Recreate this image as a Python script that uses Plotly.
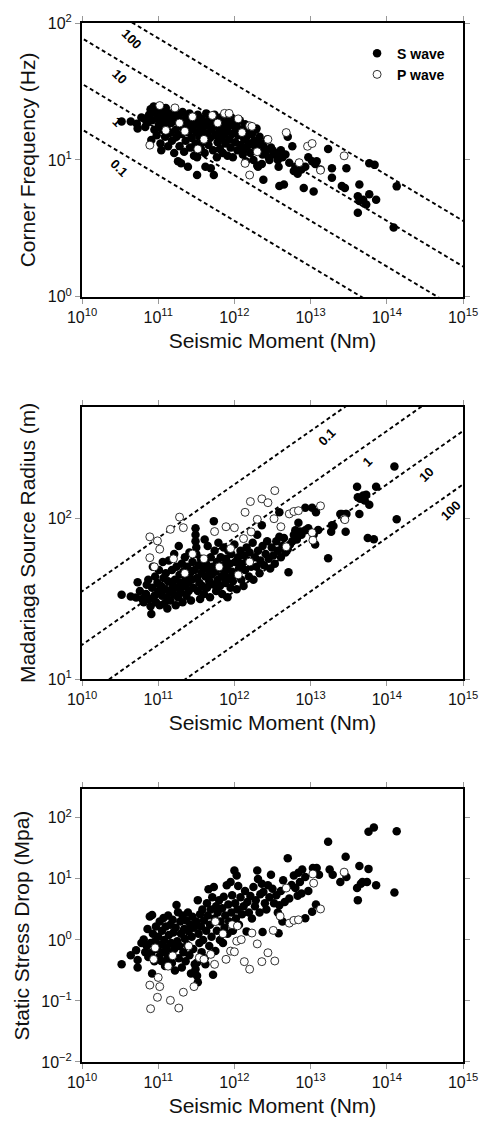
import numpy as np
import plotly.graph_objects as go

# (log10 seismic moment [Nm], log10 corner frequency [Hz])
fc_s_wave = [
    (10.52, 1.28), (10.64, 1.28), (10.72, 1.265), (10.73, 1.23), (10.78, 1.31), (10.82, 1.30),
    (10.83, 1.24), (10.85, 1.27), (10.88, 1.33), (10.90, 1.37), (10.91, 1.145), (10.92, 1.29),
    (10.94, 1.39), (10.95, 1.22), (10.97, 1.34), (10.98, 1.18), (11.00, 1.30), (11.01, 1.26),
    (11.02, 1.36), (11.03, 1.12), (11.04, 1.07), (11.05, 1.22), (11.06, 1.33), (11.08, 1.28),
    (11.09, 1.17), (11.10, 1.38), (11.11, 1.24), (11.12, 1.30), (11.13, 1.10), (11.15, 1.34),
    (11.16, 1.20), (11.17, 1.27), (11.18, 1.14), (11.20, 1.31), (11.21, 1.05), (11.22, 1.36),
    (11.23, 1.22), (11.24, 1.17), (11.25, 1.28), (11.26, 0.99), (11.27, 1.33), (11.28, 1.10),
    (11.29, 1.25), (11.30, 0.976), (11.31, 1.19), (11.32, 1.35), (11.33, 1.29), (11.34, 1.06),
    (11.35, 1.23), (11.36, 1.14), (11.37, 1.31), (11.38, 1.26), (11.39, 0.95), (11.40, 1.20),
    (11.41, 1.34), (11.42, 1.09), (11.43, 1.28), (11.44, 1.16), (11.45, 1.23), (11.46, 1.31),
    (11.47, 1.03), (11.48, 1.26), (11.49, 1.12), (11.50, 1.20), (11.51, 0.89), (11.51, 1.02),
    (11.52, 1.33), (11.53, 1.29), (11.54, 1.17), (11.55, 1.24), (11.56, 1.08), (11.57, 1.30),
    (11.58, 1.13), (11.59, 1.21), (11.60, 1.27), (11.61, 1.05), (11.62, 0.95), (11.63, 1.34),
    (11.64, 1.19), (11.65, 1.25), (11.66, 1.11), (11.67, 1.30), (11.68, 1.16), (11.69, 0.94),
    (11.70, 1.22), (11.71, 1.28), (11.72, 1.07), (11.73, 0.89), (11.74, 1.33), (11.75, 1.18),
    (11.76, 1.25), (11.77, 1.02), (11.78, 1.13), (11.79, 1.29), (11.80, 1.21), (11.81, 1.08),
    (11.82, 1.31), (11.83, 1.16), (11.84, 1.24), (11.85, 1.05), (11.86, 1.27), (11.87, 1.19),
    (11.88, 1.12), (11.89, 1.33), (11.90, 1.22), (11.91, 1.03), (11.92, 1.28), (11.93, 1.15),
    (11.94, 1.25), (11.95, 1.09), (11.96, 1.31), (11.97, 1.19), (11.98, 1.02), (12.00, 1.26),
    (12.01, 1.13), (12.02, 1.22), (12.03, 1.25), (12.04, 1.07), (12.05, 1.18), (12.07, 1.29),
    (12.08, 1.11), (12.10, 1.22), (12.11, 1.04), (12.12, 1.07), (12.13, 1.15), (12.14, 1.26),
    (12.15, 0.99), (12.16, 1.17), (12.17, 1.10), (12.19, 1.21), (12.20, 1.12), (12.21, 1.05),
    (12.22, 1.24), (12.23, 1.19), (12.25, 1.00), (12.26, 1.14), (12.27, 1.10), (12.28, 1.22),
    (12.29, 1.23), (12.30, 0.96), (12.31, 0.95), (12.32, 1.08), (12.33, 1.17), (12.34, 1.12),
    (12.36, 0.97), (12.37, 1.04), (12.38, 1.12), (12.38, 0.855), (12.40, 1.08), (12.42, 1.07),
    (12.43, 1.15), (12.45, 1.02), (12.46, 1.00), (12.48, 1.09), (12.50, 1.07), (12.52, 1.04),
    (12.55, 1.05), (12.57, 1.00), (12.58, 0.95), (12.59, 0.81), (12.61, 1.07), (12.63, 1.02),
    (12.65, 0.82), (12.67, 1.04), (12.70, 1.17), (12.72, 0.98), (12.76, 1.10), (12.78, 0.92),
    (12.80, 0.95), (12.83, 0.90), (12.88, 0.93), (12.91, 0.795), (12.93, 0.95), (12.97, 1.02),
    (13.02, 0.99), (13.04, 0.77), (13.06, 0.97), (13.08, 0.99), (13.13, 0.93), (13.23, 1.08),
    (13.28, 0.94), (13.28, 0.87), (13.41, 0.81), (13.45, 0.795), (13.47, 0.94), (13.62, 0.735),
    (13.62, 0.614), (13.64, 0.82), (13.64, 0.70), (13.69, 0.71), (13.73, 0.675), (13.77, 0.75),
    (13.77, 0.976), (13.84, 0.964), (13.86, 0.71), (14.09, 0.506), (14.13, 0.807),
]
fc_p_wave = [
    (10.89, 1.108), (11.02, 1.397), (11.10, 1.216), (11.22, 1.38), (11.45, 1.315), (11.71, 1.325),
    (11.87, 1.34), (11.93, 1.34), (12.05, 1.30), (12.20, 1.25), (12.23, 1.245), (12.44, 1.15),
    (12.68, 1.20), (12.96, 1.10), (13.02, 1.12), (12.85, 0.98), (13.13, 0.925), (12.14, 0.975),
    (12.20, 0.89), (13.44, 1.03), (11.35, 1.21), (11.60, 1.15), (11.78, 1.27), (12.30, 1.06),
    (11.52, 1.08), (12.10, 1.20), (11.28, 1.27),
]

# (log10 seismic moment [Nm], log10 source radius [m])
radius_s_wave = [
    (10.52, 1.526), (10.64, 1.515), (10.71, 1.509), (10.73, 1.604), (10.76, 1.55), (10.79, 1.50),
    (10.81, 1.48), (10.84, 1.53), (10.85, 1.588), (10.87, 1.62), (10.88, 1.50), (10.90, 1.454),
    (10.91, 1.406), (10.92, 1.57), (10.93, 1.70), (10.95, 1.52), (10.96, 1.64), (10.97, 1.48),
    (10.99, 1.60), (11.00, 1.55), (11.01, 1.68), (11.02, 1.46), (11.04, 1.58), (11.05, 1.52),
    (11.06, 1.73), (11.07, 1.63), (11.08, 1.47), (11.09, 1.56), (11.10, 1.66), (11.11, 1.51),
    (11.12, 1.44), (11.13, 1.61), (11.14, 1.74), (11.15, 1.55), (11.16, 1.49), (11.18, 1.68),
    (11.19, 1.58), (11.20, 1.53), (11.21, 1.78), (11.22, 1.62), (11.23, 1.46), (11.24, 1.70),
    (11.25, 1.57), (11.26, 1.51), (11.27, 1.83), (11.28, 1.65), (11.29, 1.60), (11.30, 1.54),
    (11.31, 1.72), (11.32, 1.48), (11.33, 1.67), (11.34, 1.58), (11.35, 1.76), (11.36, 1.63),
    (11.37, 1.52), (11.38, 1.70), (11.39, 1.60), (11.40, 1.55), (11.41, 1.79), (11.42, 1.66),
    (11.43, 1.49), (11.44, 1.62), (11.45, 1.73), (11.46, 1.57), (11.48, 1.68), (11.49, 1.94),
    (11.49, 1.90), (11.49, 1.86), (11.50, 1.82), (11.50, 1.78), (11.51, 1.63), (11.52, 1.55),
    (11.53, 1.71), (11.54, 1.60), (11.55, 1.50), (11.56, 1.75), (11.57, 1.66), (11.58, 1.58),
    (11.59, 1.69), (11.60, 1.53), (11.61, 1.87), (11.62, 1.64), (11.63, 1.72), (11.64, 1.57),
    (11.65, 1.83), (11.66, 1.68), (11.67, 1.61), (11.68, 1.51), (11.69, 1.76), (11.70, 1.65),
    (11.71, 1.70), (11.72, 1.59), (11.73, 1.985), (11.74, 1.80), (11.75, 1.67), (11.76, 1.55),
    (11.77, 1.73), (11.78, 1.62), (11.79, 1.85), (11.80, 1.69), (11.81, 1.58), (11.82, 1.76),
    (11.83, 1.64), (11.84, 1.53), (11.85, 1.71), (11.86, 1.82), (11.87, 1.66), (11.88, 1.60),
    (11.89, 1.75), (11.90, 1.69), (11.91, 1.51), (11.92, 1.80), (11.93, 1.63), (11.94, 1.72),
    (11.95, 1.57), (11.96, 1.78), (11.97, 1.67), (11.98, 1.61), (12.00, 1.84), (12.01, 1.73),
    (12.02, 1.65), (12.03, 1.56), (12.05, 1.76), (12.06, 1.69), (12.08, 1.80), (12.09, 1.62),
    (12.10, 1.72), (12.12, 1.58), (12.13, 1.77), (12.14, 1.68), (12.16, 1.82), (12.17, 1.74),
    (12.19, 1.64), (12.20, 1.79), (12.22, 1.70), (12.24, 1.85), (12.25, 1.62), (12.27, 1.76),
    (12.29, 1.70), (12.30, 1.90), (12.31, 1.80), (12.33, 1.66), (12.34, 1.74), (12.36, 1.96),
    (12.37, 1.83), (12.39, 1.71), (12.41, 1.78), (12.43, 1.86), (12.45, 1.75), (12.47, 1.69),
    (12.49, 1.82), (12.51, 1.77), (12.53, 1.72), (12.55, 1.86), (12.57, 1.80), (12.59, 2.04),
    (12.59, 1.887), (12.61, 1.76), (12.63, 1.83), (12.65, 1.88), (12.67, 1.79), (12.70, 1.81),
    (12.71, 1.666), (12.73, 1.84), (12.76, 1.86), (12.78, 1.90), (12.80, 1.928), (12.82, 1.87),
    (12.84, 1.975), (12.86, 1.92), (12.88, 1.90), (12.93, 2.068), (12.93, 1.928), (12.97, 1.94),
    (13.02, 2.068), (13.04, 1.90), (13.06, 1.84), (13.07, 2.04), (13.10, 1.93), (13.23, 1.753),
    (13.27, 1.918), (13.28, 1.96), (13.30, 1.955), (13.39, 2.03), (13.41, 2.03), (13.46, 2.03),
    (13.46, 1.918), (13.47, 2.03), (13.61, 2.20), (13.62, 2.134), (13.64, 2.03), (13.65, 2.124),
    (13.69, 2.144), (13.71, 2.113), (13.73, 2.15), (13.75, 1.88), (13.77, 2.087), (13.83, 1.872),
    (13.86, 2.20), (14.10, 2.326), (14.13, 1.996),
]
radius_p_wave = [
    (10.89, 1.887), (10.99, 1.862), (11.02, 1.81), (10.89, 1.757), (10.95, 1.70), (11.16, 1.934),
    (11.28, 2.01), (11.33, 1.944), (11.20, 1.75), (11.45, 1.78), (11.74, 1.92), (11.89, 1.95),
    (12.00, 1.944), (11.95, 1.814), (12.12, 1.876), (12.14, 2.04), (12.21, 2.107), (12.22, 1.918),
    (12.30, 1.996), (12.36, 2.124), (12.44, 2.10), (12.53, 2.175), (12.52, 2.00), (12.61, 1.95),
    (12.68, 1.825), (12.72, 2.03), (12.78, 2.045), (12.84, 2.05), (13.02, 1.913), (13.03, 1.866),
    (13.13, 2.08), (13.44, 2.00), (13.45, 1.994), (12.20, 1.73), (11.60, 1.75), (11.35, 1.66),
    (11.80, 1.70), (12.05, 1.65),
]

# (log10 seismic moment [Nm], log10 static stress drop [MPa])
stress_s_wave = [
    (10.52, -0.40), (10.64, -0.253), (10.71, -0.17), (10.73, -0.33), (10.73, -0.45), (10.78, -0.05),
    (10.81, 0.005), (10.83, -0.20), (10.85, -0.10), (10.86, 0.18), (10.87, -0.28), (10.89, 0.383),
    (10.90, -0.05), (10.91, -0.21), (10.92, 0.41), (10.92, -0.55), (10.93, 0.10), (10.95, -0.35),
    (10.96, -0.02), (10.97, 0.22), (10.98, -0.15), (11.00, 0.05), (11.01, -0.28), (11.02, 0.30),
    (11.03, -0.08), (11.04, -0.345), (11.05, 0.15), (11.06, -0.20), (11.07, 0.36), (11.08, 0.00),
    (11.09, -0.426), (11.10, 0.22), (11.11, -0.12), (11.12, -0.30), (11.13, 0.40), (11.14, 0.08),
    (11.15, -0.22), (11.16, 0.25), (11.17, -0.05), (11.18, -0.38), (11.19, 0.33), (11.20, 0.12),
    (11.21, -0.15), (11.22, -0.50), (11.23, 0.20), (11.24, 0.571), (11.25, -0.02), (11.26, 0.453),
    (11.27, -0.30), (11.28, -0.10), (11.29, 0.30), (11.30, 0.10), (11.31, -0.45), (11.32, 0.40),
    (11.33, -0.20), (11.34, 0.18), (11.35, 0.02), (11.36, -0.35), (11.37, 0.32), (11.38, -0.08),
    (11.39, 0.45), (11.40, 0.14), (11.41, -0.25), (11.42, 0.25), (11.43, -0.55), (11.44, 0.05),
    (11.45, 0.38), (11.46, -0.15), (11.47, 0.20), (11.48, -0.40), (11.49, -0.48), (11.50, 0.30),
    (11.51, -0.588), (11.51, -0.37), (11.52, 0.652), (11.52, -0.695), (11.53, 0.10), (11.54, -0.05),
    (11.55, 0.42), (11.56, 0.22), (11.57, -0.20), (11.58, 0.50), (11.59, 0.00), (11.60, 0.32),
    (11.61, -0.30), (11.62, -0.40), (11.63, 0.15), (11.64, 0.60), (11.65, 0.40), (11.66, 0.83),
    (11.67, -0.10), (11.68, 0.25), (11.69, 0.50), (11.70, 0.05), (11.71, 0.70), (11.72, -0.57),
    (11.73, 0.868), (11.74, 0.35), (11.75, -0.18), (11.76, 0.55), (11.77, 0.15), (11.78, 0.45),
    (11.80, 0.65), (11.81, 0.00), (11.82, 0.30), (11.84, 0.52), (11.85, -0.05), (11.86, 0.706),
    (11.87, 0.20), (11.88, 0.40), (11.90, 0.894), (11.91, 0.10), (11.92, 0.58), (11.93, 0.30),
    (11.95, 0.95), (11.96, 0.45), (11.97, 0.733), (11.98, 0.15), (12.00, 1.137), (12.01, 0.60),
    (12.02, 0.35), (12.03, 1.057), (12.04, 0.50), (12.05, 0.884), (12.06, 0.25), (12.08, 0.70),
    (12.10, 0.42), (12.12, 0.55), (12.14, 0.80), (12.16, 0.14), (12.17, 0.62), (12.19, 0.45),
    (12.21, 0.72), (12.23, 0.35), (12.25, 0.868), (12.27, 0.55), (12.28, 0.65), (12.30, 1.137),
    (12.31, 1.0), (12.33, 0.45), (12.34, 0.75), (12.36, 0.92), (12.37, 0.13), (12.38, 0.787),
    (12.40, 0.60), (12.42, 0.50), (12.44, 0.895), (12.46, 0.70), (12.48, 1.067), (12.50, 0.84),
    (12.52, 0.60), (12.55, 0.733), (12.57, 0.45), (12.58, 0.108), (12.59, 0.57), (12.61, 0.80),
    (12.63, 0.30), (12.64, 0.976), (12.66, 0.62), (12.70, 1.337), (12.72, 0.68), (12.75, 0.90),
    (12.78, 1.057), (12.80, 0.85), (12.83, 0.722), (12.84, 1.10), (12.86, 0.95), (12.88, 0.76),
    (12.89, 1.154), (12.93, 1.03), (12.93, 0.356), (12.97, 0.80), (13.02, 0.46), (13.03, 1.18),
    (13.07, 0.582), (13.08, 1.18), (13.11, 1.067), (13.23, 1.61), (13.25, 1.154), (13.29, 1.067),
    (13.39, 0.95), (13.46, 1.364), (13.47, 1.03), (13.61, 0.852), (13.62, 0.652), (13.64, 1.21),
    (13.66, 0.92), (13.68, 0.95), (13.74, 0.95), (13.76, 1.164), (13.76, 1.774), (13.83, 1.84),
    (13.86, 0.895), (14.10, 0.776), (14.13, 1.78),
]
stress_p_wave = [
    (10.89, -0.74), (11.02, -0.765), (10.99, -0.94), (10.90, -1.127), (11.16, -0.99), (11.27, -1.116),
    (11.33, -0.857), (11.47, -0.765), (10.94, -0.318), (11.00, -0.615), (10.96, -0.13), (11.13, -0.43),
    (11.19, -0.26), (11.54, -0.29), (11.60, -0.318), (11.69, -0.237), (11.74, -0.40), (11.75, 0.30),
    (11.89, -0.318), (11.95, -0.183), (11.97, 0.25), (12.00, -0.194), (12.03, -0.02), (12.04, 0.23),
    (12.09, 0.005), (12.13, -0.356), (12.20, -0.48), (12.23, 0.113), (12.30, -0.065), (12.36, -0.356),
    (12.44, -0.21), (12.51, 0.156), (12.53, -0.345), (12.60, 0.39), (12.68, 0.85), (12.72, 0.275),
    (12.78, 0.32), (12.84, 0.33), (13.03, 1.08), (13.04, 0.93), (13.13, 0.507), (13.44, 1.11),
    (11.40, -0.10), (11.85, 0.10),
]

# constant stress drop reference lines (MPa)
stress_levels = [0.1, 1, 10, 100]
k_beta = 0.21 * 2800.0  # Madariaga k times shear velocity (m/s)

x_tickvals = [1e10, 1e11, 1e12, 1e13, 1e14, 1e15]
x_ticktext = ["10<sup>10</sup>", "10<sup>11</sup>", "10<sup>12</sup>",
              "10<sup>13</sup>", "10<sup>14</sup>", "10<sup>15</sup>"]


def unlog(pairs):
    lm, lv = zip(*pairs)
    return [10 ** v for v in lm], [10 ** v for v in lv]


def source_radius(m0, ds_mpa):
    return (7.0 * m0 / (16.0 * ds_mpa * 1e6)) ** (1.0 / 3.0)


line_m0 = np.array([1e9, 1e16])

fig = go.Figure()
dash_line = dict(color="black", width=1.9, dash="4px,3px")

for ds in stress_levels:
    fig.add_trace(go.Scatter(x=line_m0, y=k_beta / source_radius(line_m0, ds), mode="lines",
                             line=dash_line, showlegend=False, xaxis="x", yaxis="y"))
    fig.add_trace(go.Scatter(x=line_m0, y=source_radius(line_m0, ds), mode="lines",
                             line=dash_line, showlegend=False, xaxis="x2", yaxis="y2"))

s_marker = dict(color="black", size=8.5, line=dict(width=0))
p_marker = dict(color="white", size=8, line=dict(color="black", width=0.8))

panels = [(fc_s_wave, fc_p_wave, "x", "y"),
          (radius_s_wave, radius_p_wave, "x2", "y2"),
          (stress_s_wave, stress_p_wave, "x3", "y3")]
for i, (s_pts, p_pts, xa, ya) in enumerate(panels):
    sx, sy = unlog(s_pts)
    px, py = unlog(p_pts)
    fig.add_trace(go.Scatter(x=sx, y=sy, mode="markers", marker=s_marker, name="S wave",
                             showlegend=(i == 0), xaxis=xa, yaxis=ya))
    fig.add_trace(go.Scatter(x=px, y=py, mode="markers", marker=p_marker, name="P wave",
                             showlegend=(i == 0), xaxis=xa, yaxis=ya))

font_family = "Liberation Sans, Arial, sans-serif"
axis_common = dict(type="log", showline=True, linewidth=2, linecolor="black", mirror="allticks",
                   ticks="outside", ticklen=5, tickwidth=1, tickcolor="#999", showgrid=False,
                   zeroline=False, tickfont=dict(size=16, color="#111"))
x_common = dict(axis_common, range=[10, 15], tickvals=x_tickvals, ticktext=x_ticktext,
                title=dict(text="Seismic Moment (Nm)", font=dict(size=21, color="#111"), standoff=8))


def y_title(text):
    return dict(text=text, font=dict(size=21, color="#111"), standoff=6)


# labels for the reference lines, placed just under each line
annotations = []
for ds, lm in zip(stress_levels, [10.48, 10.46, 10.49, 10.66]):
    ly = np.log10(k_beta / source_radius(10 ** lm, ds)) - 0.12
    annotations.append(dict(x=lm, y=ly, xref="x", yref="y", text="<b>%g</b>" % ds,
                            showarrow=False, textangle=45,
                            font=dict(size=13, color="black", family=font_family)))
for ds, lm in zip(stress_levels, [13.22, 13.75, 14.52, 14.84]):
    ly = np.log10(source_radius(10 ** lm, ds)) - 0.11
    annotations.append(dict(x=lm, y=ly, xref="x2", yref="y2", text="<b>%g</b>" % ds,
                            showarrow=False, textangle=-45,
                            font=dict(size=13, color="black", family=font_family)))

fig.update_layout(
    width=490, height=1126,
    margin=dict(l=82, r=20, t=18, b=57),
    paper_bgcolor="white", plot_bgcolor="white",
    font=dict(family=font_family, color="#111"),
    showlegend=True,
    legend=dict(x=0.722, y=0.986, xanchor="left", yanchor="top", bgcolor="rgba(0,0,0,0)",
                font=dict(size=14, weight="bold", color="black"), itemwidth=30, tracegroupgap=0),
    xaxis=dict(x_common, domain=[0, 1], anchor="y"),
    yaxis=dict(axis_common, domain=[0.7364, 1.0], anchor="x", range=[0, 2],
               tickvals=[1, 10, 100], ticktext=["10<sup>0</sup>", "10<sup>1</sup>", "10<sup>2</sup>"],
               title=y_title("Corner Frequency (Hz)")),
    xaxis2=dict(x_common, domain=[0, 1], anchor="y2"),
    yaxis2=dict(axis_common, domain=[0.3685, 0.6308], anchor="x2", range=[1, np.log10(500)],
                tickvals=[10, 100], ticktext=["10<sup>1</sup>", "10<sup>2</sup>"],
                title=y_title("Madariaga Source Radius (m)")),
    xaxis3=dict(x_common, domain=[0, 1], anchor="y3"),
    yaxis3=dict(axis_common, domain=[0.0, 0.2626], anchor="x3", range=[-2, 2.47],
                tickvals=[0.01, 0.1, 1, 10, 100],
                ticktext=["10<sup>\u22122</sup>", "10<sup>\u22121</sup>", "10<sup>0</sup>",
                          "10<sup>1</sup>", "10<sup>2</sup>"],
                title=y_title("Static Stress Drop (Mpa)")),
    annotations=annotations,
)

# drop the default page margin so the figure sits at the window origin
fig.write_html("out.html", config={"displayModeBar": False},
               post_script="document.body.style.margin = '0';")
